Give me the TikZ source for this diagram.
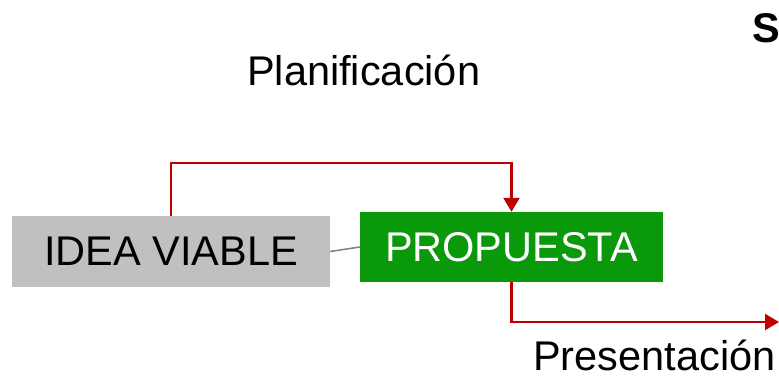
\documentclass[tikz,border=0pt]{standalone}
\usepackage{fontspec}
\setmainfont{Liberation Sans}
\usetikzlibrary{arrows.meta}
\definecolor{boxgrey}{RGB}{192,192,192}
\definecolor{boxgreen}{RGB}{10,153,10}
\definecolor{linered}{RGB}{192,0,0}
\definecolor{linkgrey}{RGB}{128,128,128}
\begin{document}
\begin{tikzpicture}[x=1pt,y=-1pt,
  bigtext/.style={font=\fontsize{41.5}{48}\selectfont, inner sep=0pt},
  stagebox/.style={bigtext, minimum height=71pt, anchor=center},
  redconn/.style={draw=linered, line width=2.3pt, -{Triangle[width=16pt,length=14pt]}},
  greyconn/.style={draw=linkgrey, line width=1.5pt}]
\useasboundingbox (0,0) rectangle (779,376);
\node[stagebox, fill=boxgrey, text=black, minimum width=318pt] (idea) at (171,251.5) {IDEA VIABLE};
\node[stagebox, fill=boxgreen, text=white, minimum width=303pt, minimum height=70pt] (prop) at (511.5,247) {PROPUESTA};
\node[bigtext, anchor=base west] (plan) at (247,85) {Planificación};
\node[bigtext, anchor=base west] (pres) at (533,370) {Presentación};
\node[bigtext, anchor=base west, font=\fontsize{41.5}{48}\selectfont\bfseries] (s) at (752,42) {S};
\coordinate (out) at (779,322);
\draw[greyconn] (idea.east) -- (prop.west);
\draw[redconn] (idea.north) -- ++(0,-53) -| (prop.north);
\draw[redconn] (prop.south) |- (out);
\end{tikzpicture}
\end{document}
